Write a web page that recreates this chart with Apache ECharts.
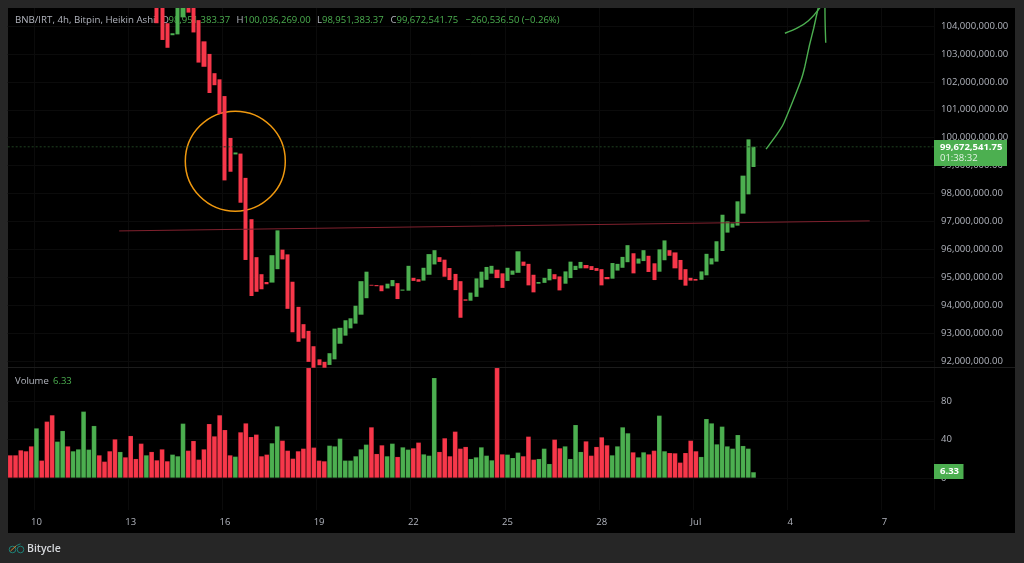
<!DOCTYPE html>
<html>
<head>
<meta charset="utf-8">
<title>BNB/IRT 4h Heikin Ashi</title>
<style>html,body{margin:0;padding:0;background:#262626}#chart{width:1024px;height:563px}</style>
<script src="https://cdn.jsdelivr.net/npm/echarts@6/dist/echarts.min.js"></script>
</head>
<body>
<div id="chart"></div>
<script>
// Price values are in millions of IRT; the first candles sit above the visible price range.
const firstCandleBar = 28;
const bodyTops = [105.0,105.1,104.10,103.74,105.1,105.3,105.4,105.2,104.21,103.45,103.00,102.31,102.09,101.49,99.99,99.47,99.43,98.56,97.08,95.72,95.11,94.83,95.79,96.68,95.99,95.82,94.84,93.94,93.32,93.08,92.53,92.06,91.97,92.28,93.16,93.19,93.46,93.53,93.98,94.86,95.20,94.73,94.72,94.71,94.77,94.90,94.79,94.56,95.41,94.98,94.93,95.34,95.83,95.97,95.72,95.63,95.33,95.12,94.86,94.21,94.45,94.96,95.20,95.37,95.41,95.27,95.14,95.34,95.24,95.93,95.56,95.48,95.09,94.83,94.98,95.30,95.11,95.03,95.21,95.56,95.41,95.55,95.44,95.40,95.33,95.29,95.01,95.51,95.48,95.73,96.15,95.86,95.67,95.97,95.77,95.50,96.00,96.32,95.97,95.89,95.62,95.29,94.98,94.94,95.21,95.84,95.68,96.29,97.24,97.00,96.93,97.72,98.64,99.94,99.67254175];
const bodyBottoms = [104.10,103.50,103.22,103.67,103.70,104.31,104.48,103.77,102.69,102.54,101.60,101.88,100.85,98.47,98.78,99.40,97.67,95.62,94.33,94.48,94.57,94.75,94.81,95.29,95.64,93.87,93.03,92.69,92.81,91.97,91.76,91.85,91.76,91.86,92.06,92.62,92.91,93.17,93.34,93.66,94.25,94.70,94.68,94.50,94.60,94.68,94.22,94.52,94.52,94.87,94.84,94.88,95.09,95.46,95.55,95.02,94.90,94.54,93.55,94.16,94.16,94.30,94.63,94.91,95.13,94.97,94.62,94.87,95.09,95.16,95.41,94.71,94.46,94.77,94.80,94.89,94.93,94.53,94.77,94.97,95.26,95.32,95.32,95.26,95.23,94.71,94.93,94.95,95.24,95.34,95.54,95.14,95.49,95.58,95.19,94.90,95.20,95.61,95.77,95.32,94.91,94.70,94.88,94.88,94.91,95.07,95.46,95.56,95.94,96.60,96.78,96.85,97.28,97.97,98.95138337];
const risingCandles = [31,32,33,43,50,51,61,62,63,64,65,66,67,68,72,73,75,76,79,80,81,88,89,90,91,92,95,96,97,101,102,103,106,107,108,109,115,116,117,118,120,121,124,125,132,133,134,135,136,137,138,139,140,141,142];
const lastHigh = 100.036269;

const volumes = [23.9,23.9,29.1,28.1,33.2,51.9,18.4,58.9,65.5,38.1,49.2,33.2,28.1,30.1,69.3,29.8,54.4,23.9,17.3,28.1,40.5,27.4,21.8,44.0,20.1,36.0,23.9,27.4,18.7,30.1,17.7,24.6,22.9,56.8,28.7,38.8,19.4,30.1,56.4,43.6,65.5,50.2,23.9,22.5,47.8,57.1,42.9,45.4,22.9,24.6,36.4,54.0,39.1,28.7,20.4,28.1,30.8,125,31.9,18.4,17.7,33.9,33.2,41.2,18.4,18.4,22.9,30.1,35.0,53.0,25.3,34.3,22.9,36.0,22.2,32.2,29.8,31.2,37.1,24.9,23.5,104.2,27.4,41.6,22.9,48.5,30.8,32.6,20.1,21.8,32.2,23.5,18.7,130,24.9,24.6,21.1,26.7,22.9,43.3,19.4,20.1,30.8,14.9,40.2,31.2,33.2,20.1,55.4,27.4,38.4,23.5,32.6,42.6,34.3,23.9,33.2,53.0,46.8,27.0,21.8,27.0,24.9,28.7,65.1,28.1,26.3,26.0,16.3,26.3,39.1,28.1,22.2,61.6,57.1,35.3,53.7,33.2,30.8,45.0,33.6,30.8,6.33];
const risingVolumes = [5,9,10,12,13,14,15,16,21,26,31,32,33,43,50,51,61,62,63,64,65,66,67,68,72,73,75,76,79,80,81,88,89,90,91,92,95,96,97,101,102,103,106,107,108,109,115,116,117,118,120,121,124,125,132,133,134,135,136,137,138,139,140,141,142];

const priceTicks = [92,93,94,95,96,97,98,99,100,101,102,103,104];
const volumeTicks = [0,40,80];
const dayTicks = ['10','13','16','19','22','25','28','Jul','4','7'];
const firstDayBar = 5;
const barsPerDayTick = 18;
const barSlots = 177;

const lastClose = 99.67254175;
const trendBars = [20.8,164.2];
const trendPrices = [96.66,97.02];
const circleCentre = [42.99,99.16];
const arrowShaftBars = [144.4,146.4,147.7,149.6,151.2,151.8,152.7,153.5,154.3,154.7];
const arrowShaftPrices = [99.59,100.10,100.49,101.35,102.13,102.54,103.32,103.92,104.60,104.86];
const arrowLeftBars = [148.0,150.3,152.5,154.6,155.0];
const arrowLeftPrices = [103.74,103.92,104.19,104.63,104.82];
const arrowRightBars = [155.8,155.7,155.65,155.65];
const arrowRightPrices = [103.40,103.97,104.64,104.82];

const GREEN = '#4caf50', RED = '#f7374a', GREY = '#b2b5be', GRID = '#0b0b0b';
const FONT = '"Open Sans","Noto Sans",sans-serif';

const categories = Array.from({length: barSlots}, (_, i) =>
  (i >= firstDayBar && (i - firstDayBar) % barsPerDayTick === 0)
    ? dayTicks[(i - firstDayBar) / barsPerDayTick] : '');
const isDayBar = (i) => categories[i] !== '';

const candles = categories.map((_, i) => {
  const k = i - firstCandleBar;
  if (k < 0 || k >= bodyTops.length) return '-';
  const up = risingCandles.includes(i);
  const o = up ? bodyBottoms[k] : bodyTops[k];
  const c = up ? bodyTops[k] : bodyBottoms[k];
  const h = i === 142 ? lastHigh : bodyTops[k];
  return [o, c, bodyBottoms[k], h];
});

const volumeBars = volumes.map((v, i) => ({
  value: v,
  itemStyle: {color: risingVolumes.includes(i) ? GREEN : RED}
}));

const zip = (xs, ys) => xs.map((x, i) => [x, ys[i]]);
const annotation = (name, data, style, smooth) => ({
  name, type: 'line', xAxisIndex: 2, yAxisIndex: 0, data,
  symbol: 'none', silent: true, z: 3, smooth: smooth || false,
  lineStyle: style, clip: true, animation: false
});

const priceLabel = (v) => (v * 1e6).toLocaleString('en-US', {minimumFractionDigits: 2, maximumFractionDigits: 2});
const caption = (x, y, text, fill, size, weight, z) => ({
  type: 'text', x, y, z: z === undefined ? 1 : z, silent: true,
  style: {text, fill, font: (weight || 'normal') + ' ' + (size || 9.5) + 'px ' + FONT, textVerticalAlign: 'middle'}
});

const option = {
  animation: false,
  backgroundColor: 'transparent',
  grid: [
    {left: 7.68, width: 926.4, top: 8, height: 359},
    {left: 7.68, width: 926.4, top: 368, height: 142}
  ],
  xAxis: [
    {type: 'category', gridIndex: 0, data: categories, axisLabel: {show: false}, axisTick: {show: false}, axisLine: {show: false},
     splitLine: {show: true, interval: (i) => isDayBar(i), lineStyle: {color: GRID}}, boundaryGap: true},
    {type: 'category', gridIndex: 1, data: categories, axisTick: {show: false, alignWithLabel: true, interval: (i) => isDayBar(i)}, axisLine: {show: false},
     axisLabel: {interval: (i) => isDayBar(i), color: GREY, fontFamily: FONT, fontSize: 9.5, margin: 7},
     splitLine: {show: true, interval: (i) => isDayBar(i), lineStyle: {color: GRID}}, boundaryGap: true},
    {type: 'value', gridIndex: 0, show: false, min: -0.5, max: barSlots - 0.5, splitLine: {show: false}}
  ],
  yAxis: [
    {type: 'value', gridIndex: 0, position: 'right', min: 91.786, max: 104.645, axisLine: {show: false},
     axisTick: {show: false, customValues: priceTicks},
     axisLabel: {customValues: priceTicks, formatter: priceLabel, color: GREY, fontFamily: FONT, fontSize: 9.5, margin: 7},
     splitLine: {show: true, lineStyle: {color: GRID}}},
    {type: 'value', gridIndex: 1, position: 'right', min: -33.25, max: 114.29, axisLine: {show: false},
     axisTick: {show: false, customValues: volumeTicks},
     axisLabel: {customValues: volumeTicks, color: GREY, fontFamily: FONT, fontSize: 9.5, margin: 7},
     splitLine: {show: true, lineStyle: {color: GRID}}}
  ],
  series: [
    {name: 'Highlight', type: 'scatter', xAxisIndex: 2, yAxisIndex: 0, data: [circleCentre], symbol: 'circle', symbolSize: 100,
     itemStyle: {color: 'rgba(0,0,0,0)', borderColor: '#f0990f', borderWidth: 1.5, opacity: 1}, silent: true, z: 1},
    {name: 'BNB/IRT', type: 'candlestick', xAxisIndex: 0, yAxisIndex: 0, data: candles, barWidth: 4.6, z: 2,
     itemStyle: {color: GREEN, color0: RED, borderColor: GREEN, borderColor0: RED, borderWidth: 0}},
    annotation('Last price', [[-0.5, lastClose], [barSlots - 0.5, lastClose]], {color: '#1f4221', width: 1, type: [2, 2]}),
    annotation('Trend line', zip(trendBars, trendPrices), {color: '#80212e', width: 1}),
    annotation('Arrow shaft', zip(arrowShaftBars, arrowShaftPrices), {color: GREEN, width: 1.4}, 0.15),
    annotation('Arrow left', zip(arrowLeftBars, arrowLeftPrices), {color: GREEN, width: 1.4}, 0.3),
    annotation('Arrow right', zip(arrowRightBars, arrowRightPrices), {color: GREEN, width: 1.4}, 0.3),
    {name: 'Volume', type: 'bar', xAxisIndex: 1, yAxisIndex: 1, data: volumeBars, barWidth: '100%', z: 2,
     itemStyle: {borderColor: 'rgba(0,0,0,0.22)', borderWidth: 0.6}}
  ],
  graphic: [
    {type: 'rect', z: -1, silent: true, shape: {x: 8, y: 8, width: 1007, height: 525}, style: {fill: '#000'}},
    {type: 'rect', z: 1, silent: true, shape: {x: 8, y: 367, width: 1007, height: 1}, style: {fill: '#1c1c1c'}},
    {type: 'rect', z: 50, silent: true, shape: {x: 0, y: 0, width: 1024, height: 8}, style: {fill: '#262626'}},

    caption(15, 20, 'BNB/IRT, 4h, Bitpin, Heikin Ashi', GREY, 9.7),
    caption(161.5, 20, 'O', GREY), caption(168.5, 20, '98,951,383.37', GREEN),
    caption(236.5, 20, 'H', GREY), caption(243.5, 20, '100,036,269.00', GREEN),
    caption(317, 20, 'L', GREY), caption(322, 20, '98,951,383.37', GREEN),
    caption(390.5, 20, 'C', GREY), caption(396.5, 20, '99,672,541.75', GREEN),
    caption(465.5, 20, '\u2212260,536.50 (\u22120.26%)', GREEN),

    caption(15, 381, 'Volume', GREY), caption(53, 381, '6.33', GREEN),

    {type: 'rect', z: 60, silent: true, shape: {x: 934, y: 140, width: 73, height: 26}, style: {fill: GREEN}},
    caption(940, 147, '99,672,541.75', '#fff', 9.5, 'bold', 61),
    caption(940, 158.5, '01:38:32', '#e3f3e4', 9.5, 'normal', 61),
    {type: 'rect', z: 60, silent: true, shape: {x: 934, y: 464, width: 29.5, height: 15}, style: {fill: GREEN}},
    caption(940, 471.5, '6.33', '#fff', 9.5, 'bold', 61),

    {type: 'circle', z: 5, silent: true, shape: {cx: 12.5, cy: 549.5, r: 3.3}, style: {fill: 'none', stroke: '#1d8278', lineWidth: 1}},
    {type: 'circle', z: 5, silent: true, shape: {cx: 20.5, cy: 549.5, r: 3.3}, style: {fill: 'none', stroke: '#1d8278', lineWidth: 1}},
    {type: 'line', z: 6, silent: true, shape: {x1: 10.5, y1: 551, x2: 16.5, y2: 545.5}, style: {stroke: '#d9822b', lineWidth: 1}},
    {type: 'line', z: 6, silent: true, shape: {x1: 16.5, y1: 545.5, x2: 20.5, y2: 543.8}, style: {stroke: '#1d8278', lineWidth: 1}},
    caption(27, 549.5, 'Bitycle', '#d6d8dc', 10.5, '600', 5)
  ]
};

echarts.init(document.getElementById('chart'), null, {renderer: 'canvas'}).setOption(option);
</script>
</body>
</html>
